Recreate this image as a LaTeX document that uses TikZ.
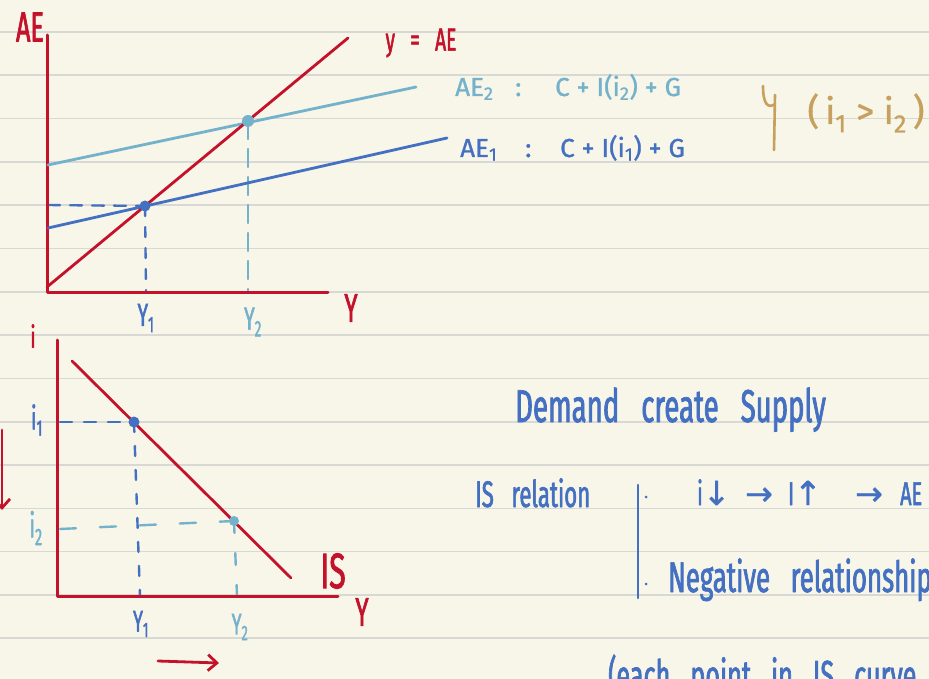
\documentclass[tikz,border=0pt]{standalone}
\usepackage{fontspec}
\setmainfont{Fira Sans}[FakeBold=1]
\newfontfamily\hand[FakeStretch=0.6,WordSpace=3,FakeBold=1.6]{Fira Sans}
\newfontfamily\arrowfont[FakeBold=1.2]{DejaVu Sans}
\usetikzlibrary{arrows.meta}

\definecolor{paper}{HTML}{F8F5E9}
\definecolor{rule}{HTML}{D8D8D5}
\definecolor{inkred}{HTML}{C4122B}
\definecolor{inkblue}{HTML}{4470C2}
\definecolor{inklight}{HTML}{74B2CC}
\definecolor{inkgold}{HTML}{C6A05C}

\newcommand{\hw}[1]{\hand\fontsize{#1}{#1}\selectfont}
\newcommand{\pn}[1]{\fontsize{#1}{#1}\selectfont}

\begin{document}
\begin{tikzpicture}[x=1pt,y=-1pt,line cap=round,line join=round]
    \tikzstyle{axis}=[draw=inkred,line width=3pt]
    \tikzstyle{curve}=[line width=2.8pt]
    \tikzstyle{dot}=[circle,inner sep=0pt,minimum size=11pt]
    \tikzstyle{bullet}=[circle,inner sep=0pt,minimum size=3pt,fill=inkblue]
    \tikzstyle{lbl}=[inner sep=0pt]
    \tikzstyle{note}=[lbl,anchor=base west,text=inkblue]
    \tikzstyle{shiftarrow}=[inkred,line width=2.8pt,-{Straight Barb[length=9pt,width=16pt]}]

    % Paper and ruled lines
    \fill[paper] (0,0) rectangle (929,679);
    \useasboundingbox (0,0) rectangle (929,679);
    \foreach \k in {0,...,14}
        \draw[rule,line width=1.6pt] (0,32+43.3*\k) -- (929,32+43.3*\k);

    % Top graph: AE against Y
    \coordinate (AEtop) at (47,35);
    \coordinate (O1) at (47,292);
    \coordinate (Yend1) at (328,292);
    \coordinate (D0) at (47,287);
    \coordinate (D1) at (348,38);
    \coordinate (AEtwoA) at (48,165);
    \coordinate (AEtwoB) at (416,87);
    \coordinate (AEoneA) at (48,228);
    \coordinate (AEoneB) at (447,138);
    \coordinate (E1left) at (48,205);
    \coordinate (E1foot) at (146,292);
    \coordinate (E2foot) at (248,292);
    \node[dot] (E1) at (145,206) {};
    \node[dot] (E2) at (248,121) {};

    \draw[inkblue,line width=2.4pt,dash pattern=on 12pt off 10pt] (E1left) -- (E1.center);
    \draw[inkblue,line width=2.4pt,dash pattern=on 10pt off 11pt] (E1.center) -- (E1foot);
    \draw[inklight,line width=2.4pt,dash pattern=on 18pt off 10pt] (E2.center) -- (E2foot);
    \draw[axis] (AEtop) -- (O1) -- (Yend1);
    \draw[curve,inklight] (AEtwoA) -- (AEtwoB);
    \draw[curve,inkblue] (AEoneA) -- (AEoneB);
    \draw[curve,inkred] (D0) -- (D1);
    \fill[inkblue] (E1) circle (5.5pt);
    \fill[inklight] (E2) circle (6pt);

    \node[lbl,text=inkred,font=\hw{42}] (AElbl) at (30,27) {AE};
    \node[lbl,text=inkred,font=\hw{32}] (diaglbl) at (421,43) {y = AE};
    \node[lbl,text=inkred,font=\hw{40}] (Ylbl1) at (351,308) {Y};
    \node[lbl,text=inkblue,font=\hw{32}] (Yone) at (146,318) {Y\textsubscript{1}};
    \node[lbl,text=inklight,font=\hw{32}] (Ytwo) at (253,322) {Y\textsubscript{2}};

    % AE equations
    \node[lbl,anchor=base west,text=inklight,font=\pn{26}] (AEtwoname) at (455,96) {AE\textsubscript{2}};
    \node[lbl,anchor=base west,text=inklight,font=\pn{26}] (AEtwocolon) at (515,96) {:};
    \node[lbl,anchor=base west,text=inklight,font=\pn{26}] (AEtwoeq) at (555,96) {C + I(i\textsubscript{2}) + G};
    \node[lbl,anchor=base west,text=inkblue,font=\pn{26}] (AEonename) at (460,157) {AE\textsubscript{1}};
    \node[lbl,anchor=base west,text=inkblue,font=\pn{26}] (AEonecolon) at (525,157) {:};
    \node[lbl,anchor=base west,text=inkblue,font=\pn{26}] (AEoneeq) at (560,157) {C + I(i\textsubscript{1}) + G};

    % Brace and order of rates
    \draw[inkgold,line width=2.6pt] (763,86) .. controls (763,104) and (768,109) .. (775,104);
    \draw[inkgold,line width=2.6pt] (775,95) -- (774,150);
    \node[lbl,text=inkgold,font=\pn{36}] (order) at (866,113) {(\,i\textsubscript{1} > i\textsubscript{2}\,)};

    % Bottom graph: i against Y
    \coordinate (itop) at (57,340);
    \coordinate (O2) at (57,596);
    \coordinate (Yend2) at (338,596);
    \coordinate (IS0) at (72,361);
    \coordinate (IS1) at (291,578);
    \coordinate (P1left) at (60,422);
    \coordinate (P1foot) at (140,596);
    \coordinate (P2left) at (60,529);
    \coordinate (P2foot) at (237,596);
    \node[dot] (P1) at (134,422) {};
    \node[dot] (P2) at (234,521) {};

    \draw[inkblue,line width=2.4pt,dash pattern=on 12pt off 12pt] (P1left) -- (P1.center);
    \draw[inkblue,line width=2.4pt,dash pattern=on 10pt off 14pt] (P1.center) -- (P1foot);
    \draw[inklight,line width=2.4pt,dash pattern=on 16pt off 24pt] (P2left) -- (P2.center);
    \draw[inklight,line width=2.4pt,dash pattern=on 12pt off 20pt] (P2.center) -- (P2foot);
    \draw[axis] (itop) -- (O2) -- (Yend2);
    \draw[curve,inkred] (IS0) -- (IS1);
    \fill[inkblue] (P1) circle (5.5pt);
    \fill[inklight] (P2) circle (5pt);

    \node[lbl,text=inkred,font=\hw{30}] (ilbl) at (33,336) {i};
    \node[lbl,text=inkblue,font=\hw{32}] (ione) at (37,420) {i\textsubscript{1}};
    \node[lbl,text=inklight,font=\hw{34}] (itwo) at (36,528) {i\textsubscript{2}};
    \node[lbl,text=inkred,font=\hw{50}] (ISlbl) at (333,571) {IS};
    \node[lbl,text=inkred,font=\hw{40}] (Ylbl2) at (362,612) {Y};
    \node[lbl,text=inkblue,font=\hw{30}] (Yonelow) at (141,624) {Y\textsubscript{1}};
    \node[lbl,text=inklight,font=\hw{30}] (Ytwolow) at (240,627) {Y\textsubscript{2}};

    % Shift arrows
    \coordinate (dnTop) at (2,430);
    \coordinate (dnTip) at (2,510);
    \coordinate (rtTail) at (158,661);
    \coordinate (rtTip) at (219,663);
    \draw[shiftarrow] (dnTop) -- (dnTip);
    \draw[shiftarrow] (rtTail) -- (rtTip);

    % Notes on the right
    \node[note,font=\hw{46}] (motto) at (515,422) {Demand create Supply};
    \node[note,font=\hw{37}] (isrel) at (475,507) {IS relation};
    \coordinate (barTop) at (638,485);
    \coordinate (barBot) at (638,598);
    \draw[inkblue,line width=2.5pt] (barTop) -- (barBot);
    \node[bullet] (b1) at (646,497) {};
    \node[bullet] (b2) at (646,584) {};
    \foreach \x/\t/\n in {697/{i{\arrowfont↓}}/c1, 745/{\arrowfont→}/c2, 788/{I{\arrowfont↑}}/c3, 855/{\arrowfont→}/c4, 900/{AE}/c5}
        \node[note,font=\hw{33}] (\n) at (\x,505) {\t};
    \node[note,font=\hw{43}] (negrel) at (668,592) {Negative relationship};
    \node[note,font=\hw{42}] (eachpt) at (608,690) {(each point in IS curve};
\end{tikzpicture}
\end{document}
